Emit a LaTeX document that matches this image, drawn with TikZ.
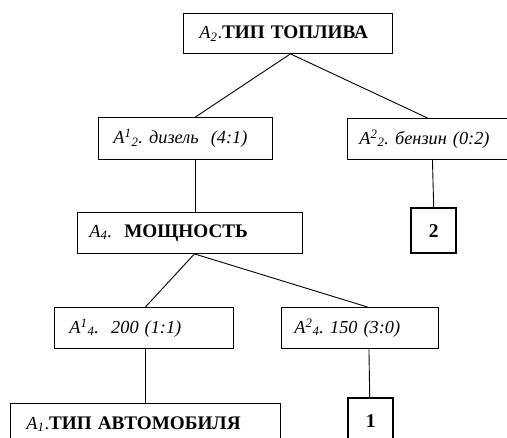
\documentclass[tikz,border=0pt]{standalone}
\usepackage{fontspec}
\setmainfont{Liberation Serif}
\frenchspacing
\newcommand{\capsfont}{\fontsize{19.2}{21}\selectfont\bfseries}
\begin{document}
\begin{tikzpicture}[x=1pt,y=-1pt,
  every node/.style={font=\fontsize{18.3}{20}\selectfont},
  box/.style={draw, line width=0.9pt, anchor=north west, inner ysep=0pt, align=left},
  leaf/.style={draw, line width=2.4pt, anchor=north west, inner sep=0pt,
               minimum width=45, minimum height=45, font=\fontsize{19.5}{21}\selectfont\bfseries},
  link/.style={line width=0.9pt}]
\clip (0,0) rectangle (507,438);
\fill[white] (0,0) rectangle (507,438);

% level 1: fuel type
\node[box, inner xsep=16, text width=177, minimum height=40] (fuel) at (183,13)
  {\textit{A\textsubscript{2}}.{\capsfont ТИП ТОПЛИВА}};

% level 2: diesel / petrol
\node[box, inner xsep=15, text width=144, minimum height=42] (diesel) at (98,117)
  {\textit{A\textsuperscript{1}\textsubscript{2}. дизель\ \ (4:1)}};
\node[box, inner xsep=12, text width=146, minimum height=41] (petrol) at (347,118)
  {\textit{A\textsuperscript{2}\textsubscript{2}. бензин (0:2)}};
\node[leaf] (two) at (410,207) {2};

% level 3: power
\node[box, inner xsep=12, text width=201, minimum height=41] (power) at (77,212)
  {\textit{A\textsubscript{4}.}\ \ {\capsfont МОЩНОСТЬ}};

% level 4: 200 / 150
\node[box, inner xsep=15, text width=149, minimum height=41] (p200) at (54,307)
  {\textit{A\textsuperscript{1}\textsubscript{4}.\ \ 200 (1:1)}};
\node[box, inner xsep=13, text width=131, minimum height=41] (p150) at (281,307)
  {\textit{A\textsuperscript{2}\textsubscript{4}. 150 (3:0)}};

% level 5: car type / outcome 1
\node[box, inner xsep=16, text width=238, minimum height=41] (car) at (10,403)
  {\textit{A\textsubscript{1}}.{\capsfont ТИП АВТОМОБИЛЯ}};
\node[leaf] (one) at (347,397) {1};

% connectors
\draw[link] ([xshift=2.5]fuel.south) -- ([xshift=10]diesel.north);
\draw[link] ([xshift=2.5]fuel.south) -- ([xshift=-5]petrol.north);
\draw[link] (petrol.south) -- (two.north);
\draw[link] ([xshift=9.5]diesel.south) -- ([xshift=5]power.north);
\draw[link] ([xshift=4.5]power.south) -- ([xshift=1.5]p200.north);
\draw[link] ([xshift=4.5]power.south) -- ([xshift=7.5]p150.north);
\draw[link] ([xshift=1]p200.south) -- ([xshift=-0.5]car.north);
\draw[link] ([xshift=9]p150.south) -- ([xshift=-1]one.north);
\end{tikzpicture}
\end{document}
